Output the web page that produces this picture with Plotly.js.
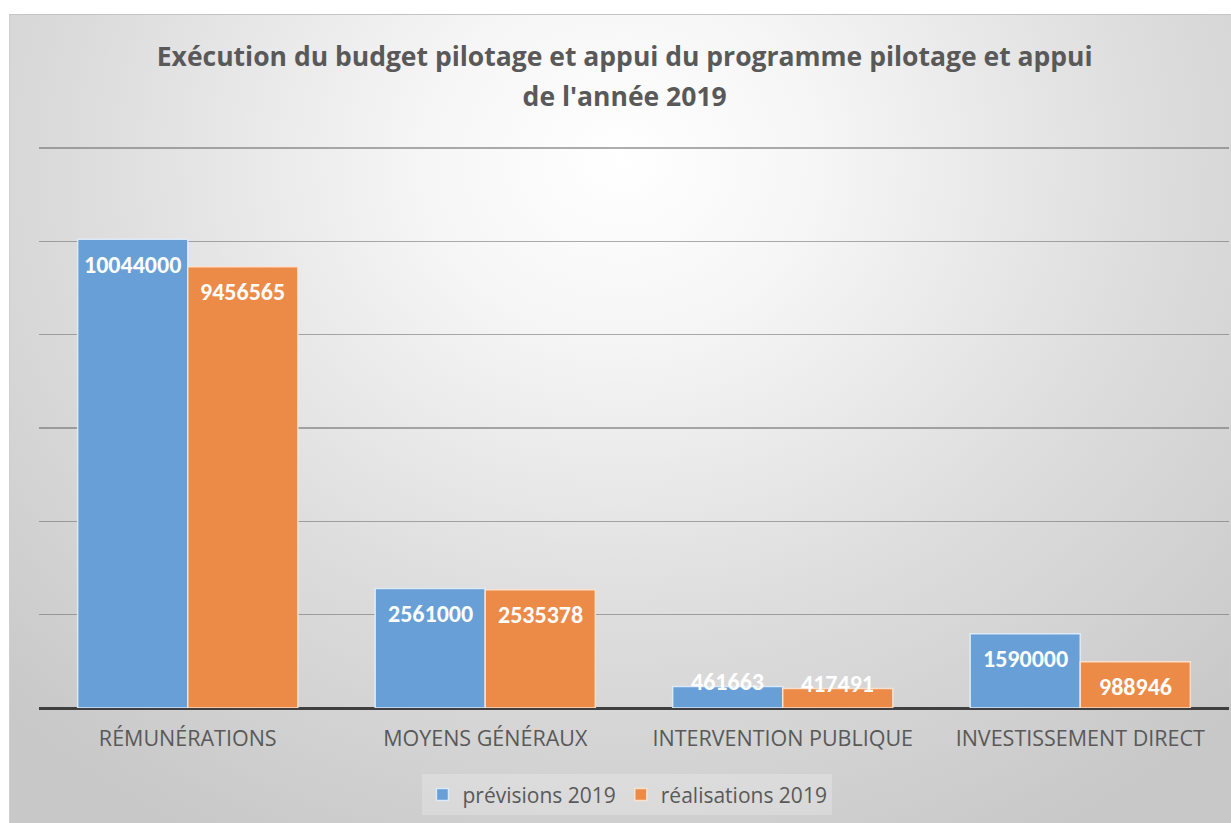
<!DOCTYPE html>
<html>
<head>
<meta charset="utf-8">
<script src="https://cdn.plot.ly/plotly-3.0.1.min.js"></script>
<style>
  html, body { margin: 0; padding: 0; background: #ffffff; }
  #chart {
    position: absolute; left: 9px; top: 14px; width: 1222px; height: 809px;
    background: radial-gradient(ellipse 72% 95% at 50% 18%, #ffffff 0%, #f6f6f6 22%, #dcdcdc 62%, #c8c8c8 100%);
    border-top: 1px solid #c4c4c4; border-left: 1px solid #cfcfcf;
    box-sizing: border-box;
  }
</style>
</head>
<body>
<div id="chart"></div>
<script>
const categories = ["RÉMUNÉRATIONS", "MOYENS GÉNÉRAUX", "INTERVENTION PUBLIQUE", "INVESTISSEMENT DIRECT"];
const previsions = [10044000, 2561000, 461663, 1590000];
const realisations = [9456565, 2535378, 417491, 988946];
const seriesNames = ["prévisions 2019", "réalisations 2019"];
const titleLines = ["Exécution du budget pilotage et appui du programme pilotage et appui", "de l'année 2019"];

const LABELFONT = "Carlito, Lato, sans-serif";
const TEXTFONT = "'Open Sans', 'Noto Sans', sans-serif";
const yTop = 12000000;
const bargap = 0.26;
const marginT = 131, marginB = 116, H = 809;
const plotH = H - marginT - marginB;          // 562 px
const yRangeMax = yTop * plotH / 560;         // top gridline sits 2px inside the plot
const pxPerUnit = plotH / yRangeMax;

const traces = [
  { type: "bar", name: seriesNames[0], x: categories, y: previsions,
    marker: { color: "#689fd6", line: { color: "rgba(225,238,250,0.9)", width: 1.5 } },
    hoverinfo: "none" },
  { type: "bar", name: seriesNames[1], x: categories, y: realisations,
    marker: { color: "#ec8a48", line: { color: "rgba(252,228,210,0.9)", width: 1.5 } },
    hoverinfo: "none" }
];

// data labels: inside end, or just above the top when the bar is too short
const annotations = [];
[previsions, realisations].forEach((vals, s) => {
  const off = (s === 0 ? -1 : 1) * (1 - bargap) / 4;
  vals.forEach((v, i) => {
    const hPx = v * pxPerUnit;
    annotations.push({
      x: i + off, y: v, xref: "x", yref: "y",
      text: String(v), showarrow: false,
      yanchor: "middle", xanchor: "center",
      yshift: hPx < 45 ? 5 : -25,
      font: { family: LABELFONT, size: 24, color: "#ffffff", weight: 700 }
    });
  });
});

const titleHTML = titleLines.map(t => '<span style="font-size:26.5px">' + t + '</span>').join("<br>");

const layout = {
  width: 1222, height: 809,
  paper_bgcolor: "rgba(0,0,0,0)", plot_bgcolor: "rgba(0,0,0,0)",
  margin: { l: 29, r: 3, t: marginT, b: marginB },
  title: { text: titleHTML, xref: "container", yref: "container", x: 0.503, y: 0.937,
           xanchor: "center", yanchor: "middle",
           font: { family: TEXTFONT, size: 31, color: "#595959", weight: 700 } },
  barmode: "group", bargap: bargap, bargroupgap: 0,
  xaxis: { type: "category", showgrid: false, zeroline: false, showline: false,
           ticks: "outside", ticklen: 11, tickcolor: "rgba(0,0,0,0)",
           tickfont: { family: TEXTFONT, size: 21.5, color: "#595959" } },
  yaxis: { range: [0, yRangeMax], tick0: 0, dtick: 2000000, showticklabels: false, ticks: "",
           gridcolor: "rgba(105,105,105,0.55)", gridwidth: 1.5,
           zeroline: true, zerolinecolor: "#3f3f3f", zerolinewidth: 3, showline: false },
  showlegend: true,
  legend: { orientation: "h", x: 0.4945, xanchor: "center", y: -0.118, yanchor: "top",
            bgcolor: "rgba(255,255,255,0.22)", borderwidth: 0,
            font: { family: TEXTFONT, size: 21, color: "#595959" } },
  annotations: annotations
};

Plotly.newPlot("chart", traces, layout, { displayModeBar: false, staticPlot: true });
</script>
</body>
</html>
